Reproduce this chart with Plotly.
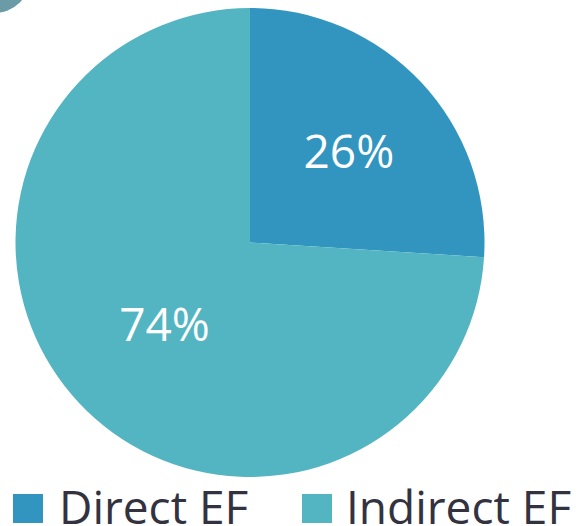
import plotly.graph_objects as go

# Datos del gráfico
etiquetas = ['Direct EF', 'Indirect EF']
valores = [26, 74]
colores = ['#3295c0', '#53b5c1']

fuente = 'Open Sans'

fig = go.Figure(go.Pie(
    labels=etiquetas,
    values=valores,
    sort=False,
    direction='clockwise',
    rotation=0,
    marker=dict(colors=colores, line=dict(width=0)),
    textinfo='percent',
    texttemplate='%{percent:.0%}',
    textposition='inside',
    insidetextorientation='horizontal',
    textfont=dict(family=fuente, size=46, color='white'),
    domain=dict(x=[15 / 579, 485 / 579], y=[1 - 477 / 526, 1 - 8 / 526]),
    showlegend=False,
    hoverinfo='label+percent',
))

# Leyenda dibujada a mano (cuadros grandes como en el original)
pos_cuadro = [13, 302]
pos_texto = [62, 349]
formas = []
anotaciones = []
for etiqueta, color, x0, xt in zip(etiquetas, colores, pos_cuadro, pos_texto):
    formas.append(dict(type='rect', xref='paper', yref='paper',
                       x0=x0 / 579, x1=(x0 + 30) / 579,
                       y0=1 - 523 / 526, y1=1 - 494 / 526,
                       fillcolor=color, line=dict(width=0)))
    anotaciones.append(dict(text=etiqueta, xref='paper', yref='paper',
                            x=(xt - 5) / 579, y=1 - 506 / 526,
                            xanchor='left', yanchor='middle', showarrow=False,
                            height=38, valign='middle',
                            font=dict(family=fuente, size=46, color='#33323f')))

# Círculo decorativo en la esquina superior izquierda
formas.append(dict(type='circle', xref='paper', yref='paper',
                   x0=-43 / 579, x1=31 / 579, y0=1 - 13 / 526, y1=1 + 61 / 526,
                   fillcolor='#6a9ba7', line=dict(width=0)))

fig.update_layout(
    width=579, height=526,
    margin=dict(l=0, r=0, t=0, b=0),
    paper_bgcolor='white',
    plot_bgcolor='white',
    shapes=formas,
    annotations=anotaciones,
)

# Quitar el margen del body para que la figura ocupe la ventana entera
fig.write_html('out.html', config={'displayModeBar': False},
               post_script="document.body.style.margin='0';document.body.style.overflow='hidden';")
